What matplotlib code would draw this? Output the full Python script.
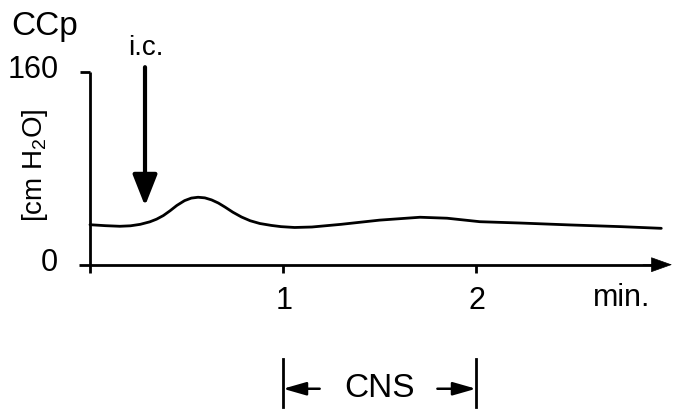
import matplotlib
matplotlib.use("Agg")
import matplotlib.pyplot as plt
from matplotlib.patches import FancyArrowPatch

plt.rcParams['font.family'] = ['Liberation Sans', 'DejaVu Sans']
plt.rcParams['mathtext.fontset'] = 'custom'
plt.rcParams['mathtext.rm'] = 'Liberation Sans'
plt.rcParams['mathtext.it'] = 'Liberation Sans'

# ---- data (time in min, pressure in cm H2O) ----
time_min = [0.0, 0.08, 0.155, 0.21, 0.26, 0.31, 0.345, 0.38, 0.415, 0.45, 0.49,
            0.525, 0.56, 0.595, 0.63, 0.665, 0.70, 0.74, 0.785, 0.83, 0.88,
            0.94, 0.99, 1.06, 1.15, 1.30, 1.50, 1.71, 1.85, 2.02, 2.23, 2.49,
            2.75, 2.96]
ccp = [33.2, 32.4, 31.9, 32.3, 33.5, 35.6, 37.8, 40.8, 44.8, 49.2, 53.2,
       55.3, 56.0, 55.5, 53.8, 51.2, 47.8, 43.6, 39.6, 36.5, 34.2,
       32.6, 31.6, 30.9, 31.3, 33.5, 37.0, 39.4, 38.6, 35.7, 34.6, 33.0,
       31.6, 30.2]
x_ticks = [1, 2]
x_tick_labels = ["1", "2"]
y_ticks = [0, 160]
y_tick_labels = ["0", "160"]
injection_time = 0.285
cns_start, cns_end = 1.0, 2.0

W, H = 675, 410
fig = plt.figure(figsize=(W / 100, H / 100), dpi=100)
x0, x1 = 90, 672
y0, y160 = 265.7, 73.0
ax = fig.add_axes([x0 / W, 1 - y0 / H, (x1 - x0) / W, (y0 - y160) / H])
xmax = (x1 - x0) / 193.0
ax.set_xlim(0, xmax)
ax.set_ylim(0, 160)
ax.axis('off')

lw_axis = 2.0
# curve
ax.plot(time_min, ccp, color='black', lw=2.0, solid_capstyle='round',
        solid_joinstyle='round', clip_on=False)

# y axis line (crosses below x axis)
ax.plot([0, 0], [-7, 160], color='black', lw=lw_axis, clip_on=False, solid_capstyle='butt')
# y tick at 160
ax.plot([-0.052, 0], [160, 160], color='black', lw=lw_axis, clip_on=False, solid_capstyle='butt')
# x axis with arrow
ax.plot([-0.055, xmax - 0.08], [0, 0], color='black', lw=lw_axis, clip_on=False, solid_capstyle='butt')
ax.add_patch(FancyArrowPatch((xmax - 0.15, 0), (xmax, 0),
                             arrowstyle='-|>,head_length=14,head_width=5',
                             mutation_scale=1, color='black', lw=0.5,
                             shrinkA=0, shrinkB=0, clip_on=False))
for xt in x_ticks:
    ax.plot([xt, xt], [0, -6.5], color='black', lw=lw_axis, clip_on=False, solid_capstyle='butt')

# tick labels
fs = 22
for xt, lab in zip(x_ticks, x_tick_labels):
    fig.text((x0 + 193 * xt + 1) / W, 1 - 301 / H, lab, ha='center', va='center', fontsize=fs)
fig.text(622 / W, 1 - 298 / H, "min.", ha='center', va='center', fontsize=fs)
fig.text(59 / W, 1 - 70 / H, y_tick_labels[1], ha='right', va='center', fontsize=fs)
fig.text(58 / W, 1 - 263 / H, y_tick_labels[0], ha='right', va='center', fontsize=fs)

# titles / labels
fig.text(11 / W, 1 - 26 / H, "CCp", ha='left', va='center', fontsize=24)
fig.text(146 / W, 1 - 48 / H, "i.c.", ha='center', va='center', fontsize=20)
fig.text(35 / W, 1 - 165 / H, "[cm H$_2$O]", ha='center', va='center', fontsize=20,
         rotation=90)

# injection arrow
ax.add_patch(FancyArrowPatch((injection_time, 164), (injection_time, 48.8),
                             arrowstyle='-|>,head_length=19,head_width=7.5',
                             mutation_scale=1, color='black', lw=3,
                             shrinkA=0, shrinkB=0, clip_on=False))

# CNS interval
bar_top, bar_bot, arr_y = -78.3, -118.2, -103.0
for xb in (cns_start, cns_end):
    ax.plot([xb, xb], [bar_top, bar_bot], color='black', lw=2, clip_on=False)
ax.add_patch(FancyArrowPatch((cns_start + 0.19, arr_y), (cns_start, arr_y),
                             arrowstyle='-|>,head_length=14,head_width=4',
                             mutation_scale=1, color='black', lw=1.8,
                             shrinkA=0, shrinkB=0, clip_on=False))
ax.add_patch(FancyArrowPatch((cns_end - 0.2, arr_y), (cns_end, arr_y),
                             arrowstyle='-|>,head_length=14,head_width=4',
                             mutation_scale=1, color='black', lw=1.8,
                             shrinkA=0, shrinkB=0, clip_on=False))
fig.text(379 / W, 1 - 389 / H, "CNS", ha='center', va='center', fontsize=24)

fig.savefig("out.png", dpi=100)
